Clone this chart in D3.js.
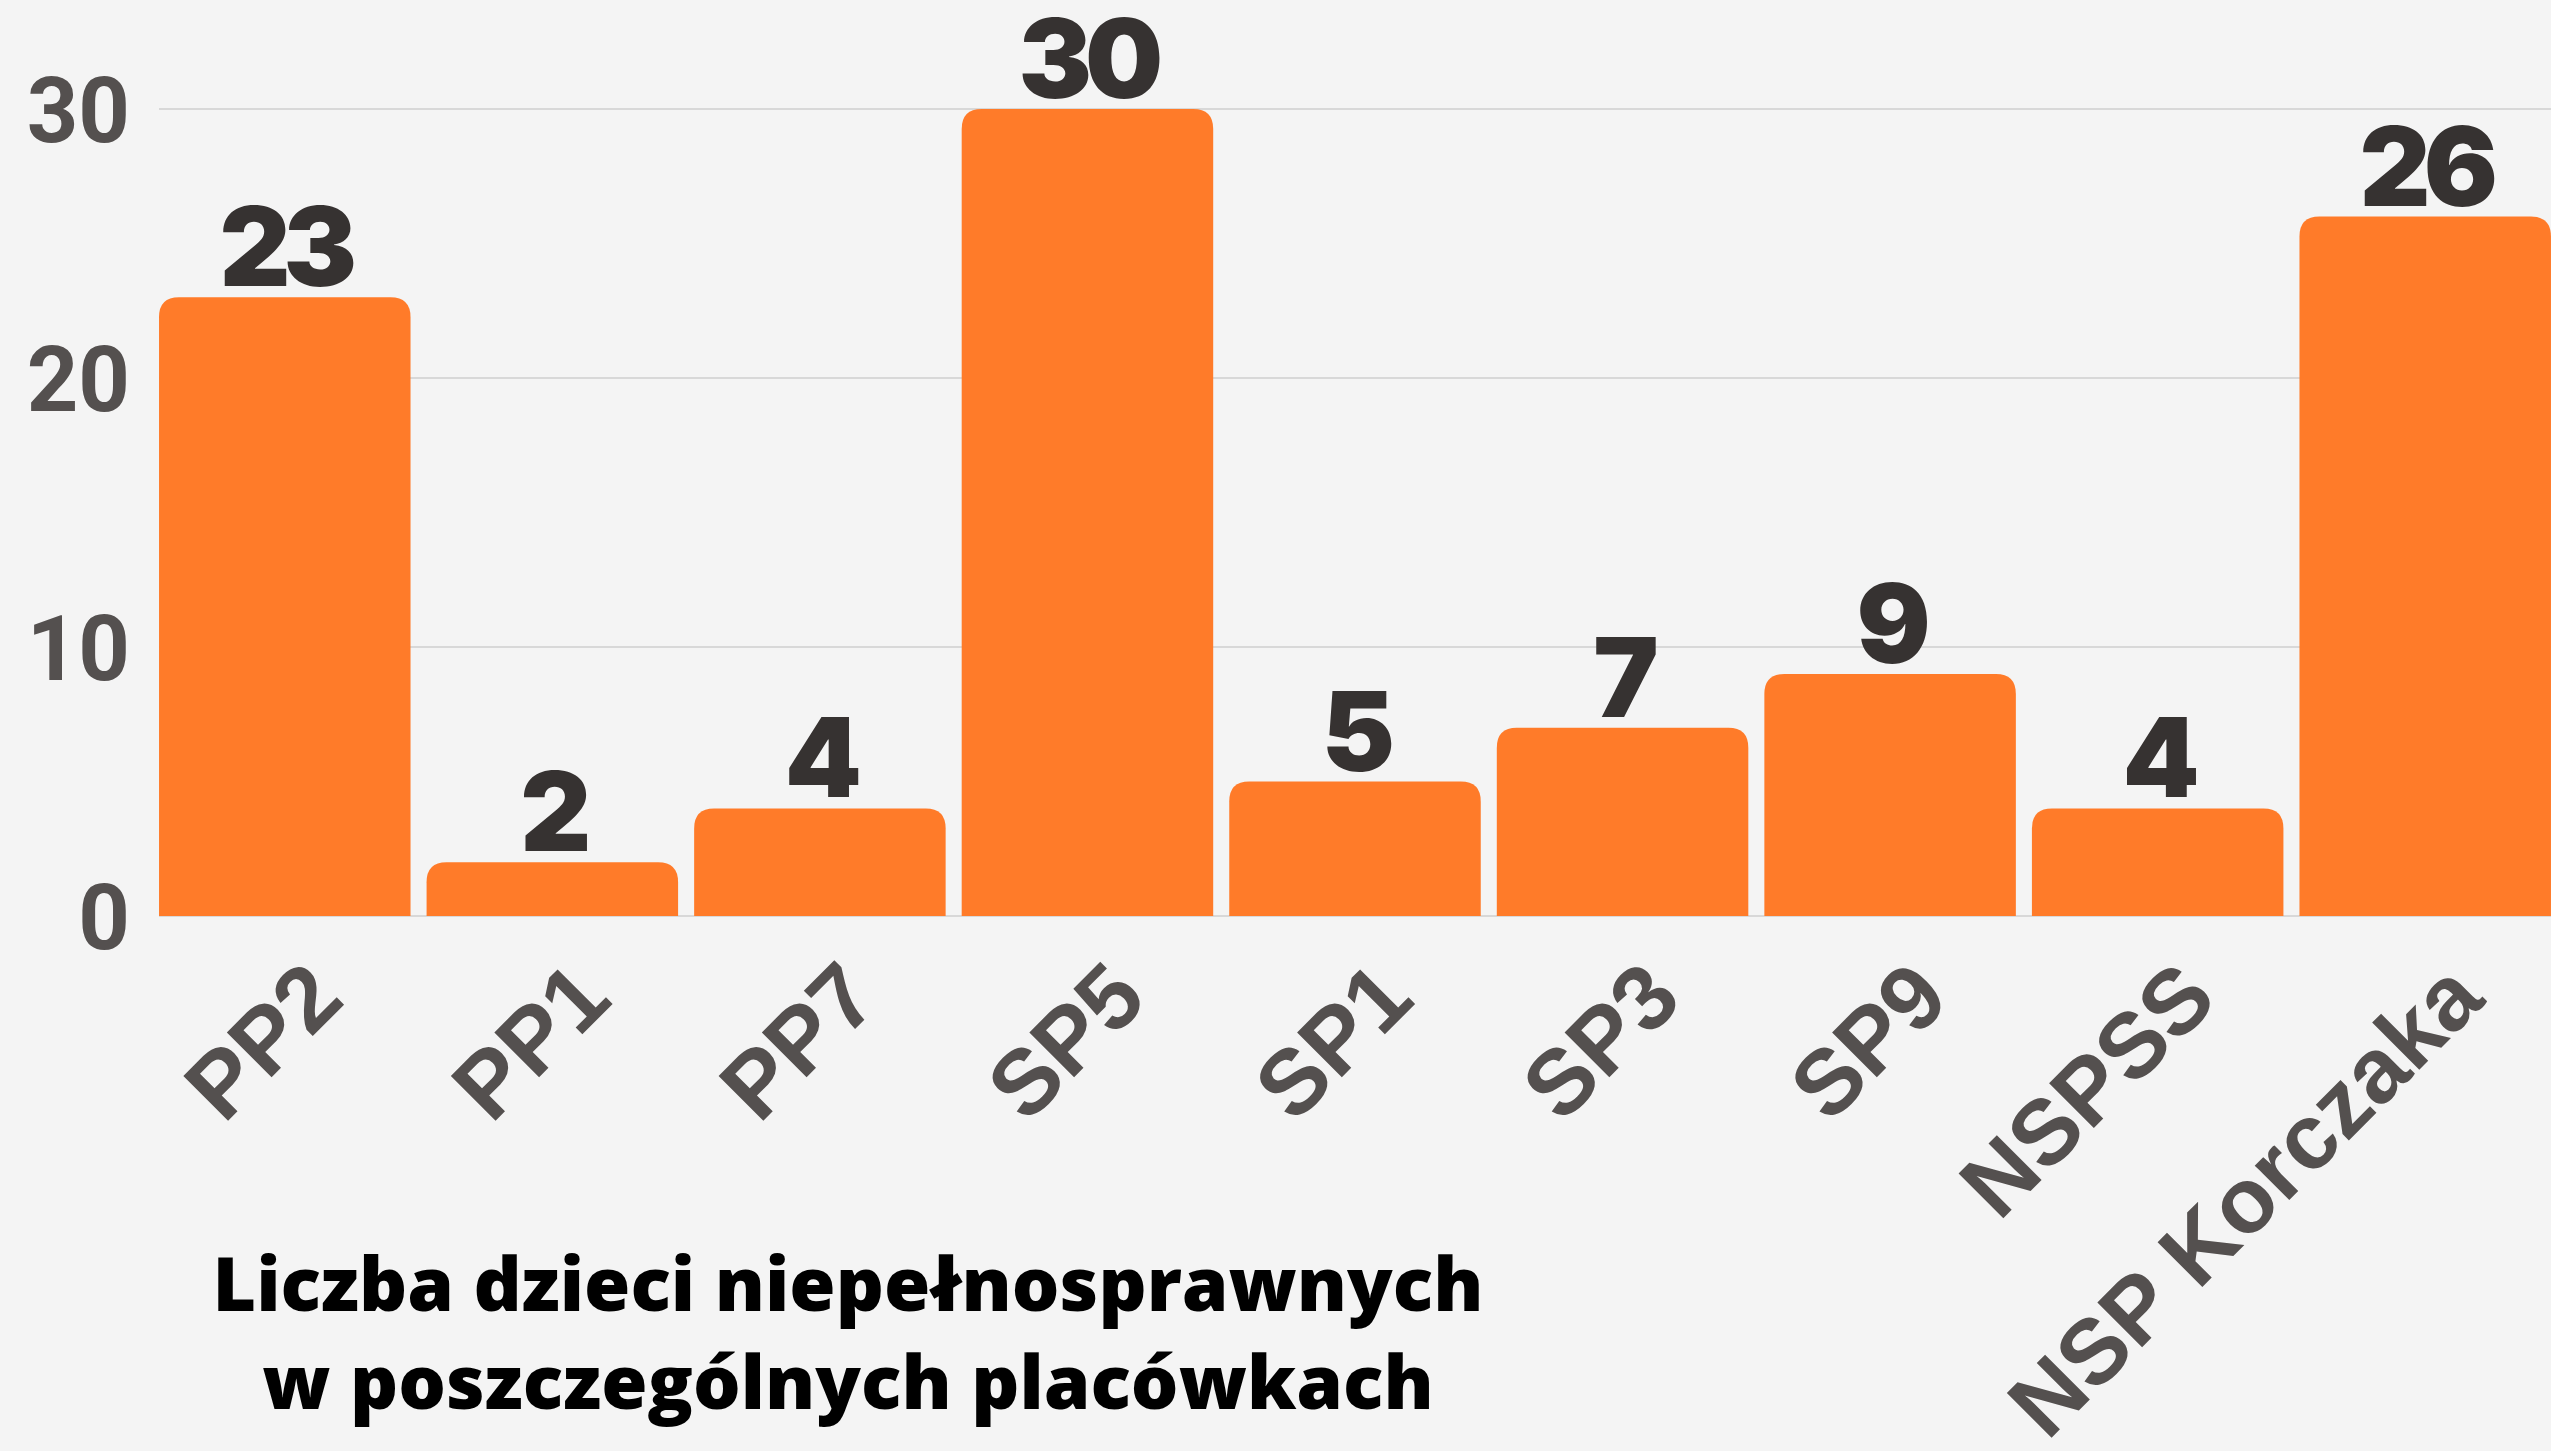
<!DOCTYPE html>
<html>
<head>
<meta charset="utf-8">
<script src="https://cdn.jsdelivr.net/npm/d3@7"></script>
<style>
  html, body { margin: 0; padding: 0; background: #f4f4f4; }
  svg { display: block; }
</style>
</head>
<body>
<svg id="chart" width="2551" height="1451"></svg>
<script>
// data
const schools = ['PP2', 'PP1', 'PP7', 'SP5', 'SP1', 'SP3', 'SP9', 'NSPSS', 'NSP Korczaka'];
const counts = [23, 2, 4, 30, 5, 7, 9, 4, 26];
const yTicks = [0, 10, 20, 30];
const titleLines = ['Liczba dzieci niepełnosprawnych', 'w poszczególnych placówkach'];

const svg = d3.select('#chart'),
  width = +svg.attr('width'),
  height = +svg.attr('height');

svg.append('rect')
  .attr('width', width)
  .attr('height', height)
  .attr('fill', '#f4f4f4');

const x = d3.scaleBand()
  .domain(schools)
  .range([151, 2559])
  .paddingInner(0.06)
  .paddingOuter(0.03);

const y = d3.scaleLinear()
  .domain([0, 30])
  .range([916, 109]);

// gridlines
svg.append('g')
  .selectAll('line')
  .data(yTicks)
  .join('line')
  .attr('x1', x(schools[0]))
  .attr('x2', width)
  .attr('y1', d => y(d))
  .attr('y2', d => y(d))
  .attr('stroke', '#d8d8d8')
  .attr('stroke-width', 2);

// y axis labels
const yAxis = svg.append('g')
  .attr('transform', 'translate(130,0)')
  .call(d3.axisLeft(y).tickValues(yTicks).tickSize(0).tickPadding(0));
yAxis.select('.domain').remove();
yAxis.selectAll('text')
  .attr('font-family', 'Roboto, "Liberation Sans", sans-serif')
  .attr('font-weight', 700)
  .attr('font-size', 90)
  .attr('fill', '#54504f')
  .attr('dy', '0.36em');

// bars, only the top corners are rounded
function barPath(d, i) {
  const x0 = x(schools[i]), w = x.bandwidth();
  const top = y(d), bottom = y(0);
  const r = Math.min(20, (bottom - top) / 2);
  return 'M' + x0 + ',' + bottom +
    'V' + (top + r) +
    'Q' + x0 + ',' + top + ' ' + (x0 + r) + ',' + top +
    'H' + (x0 + w - r) +
    'Q' + (x0 + w) + ',' + top + ' ' + (x0 + w) + ',' + (top + r) +
    'V' + bottom + 'Z';
}

svg.append('g')
  .selectAll('path')
  .data(counts)
  .join('path')
  .attr('d', barPath)
  .attr('fill', '#ff7b29');

// value labels
svg.append('g')
  .selectAll('text')
  .data(counts)
  .join('text')
  .attr('x', (d, i) => x(schools[i]) + x.bandwidth() / 2)
  .attr('y', d => y(d) - 11)
  .attr('text-anchor', 'middle')
  .attr('font-family', 'Inter, Lato, "DejaVu Sans", sans-serif')
  .attr('font-weight', 900)
  .attr('font-size', 110)
  .attr('letter-spacing', -7)
  .attr('fill', '#363231')
  .text(d => d);

// category labels, rotated
svg.append('g')
  .selectAll('text')
  .data(schools)
  .join('text')
  .attr('transform', d => 'translate(' + (x(d) + x.bandwidth() / 2 + 62) + ',' + 1002 + ') rotate(-45)')
  .attr('text-anchor', 'end')
  .attr('font-family', '"Liberation Sans", Arial, sans-serif')
  .attr('font-weight', 700)
  .attr('font-size', 92)
  .attr('fill', '#54504f')
  .text(d => d);

// title
svg.append('g')
  .selectAll('text')
  .data(titleLines)
  .join('text')
  .attr('x', 848)
  .attr('y', (d, i) => 1311 + i * 98)
  .attr('text-anchor', 'middle')
  .attr('font-family', '"Open Sans", sans-serif')
  .attr('font-weight', 800)
  .attr('font-size', 75)
  .attr('fill', '#000')
  .text(d => d);
</script>
</body>
</html>
